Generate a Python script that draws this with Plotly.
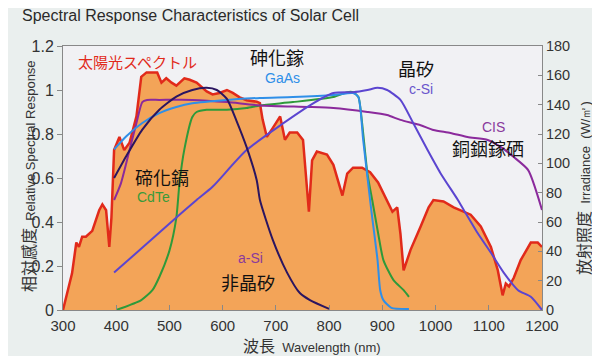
import plotly.graph_objects as go

# Solar spectrum (irradiance, W/m^2) vs wavelength (nm)
solar_wl = [300, 306, 317, 325, 330, 336, 343, 355, 368, 374, 381, 387, 391, 396, 406, 415, 425, 438, 447,
            457, 472, 477, 485, 494, 504, 513, 528, 538, 551, 557, 570, 581, 594, 608, 619, 632, 645, 664,
            670, 675, 683, 694, 708, 717, 726, 740, 751, 762, 768, 777, 796, 808, 825, 834, 845, 862, 877,
            892, 909, 919, 928, 934, 940, 953, 972, 987, 996, 1015, 1034, 1053, 1066, 1085, 1104, 1117,
            1126, 1132, 1138, 1147, 1160, 1179, 1192, 1200]
solar_irr = [0, 9, 25, 46, 43, 50, 50, 54, 68, 72, 68, 43, 63, 109, 118, 109, 114, 132, 159,
             162, 162, 162, 155, 158, 155, 153, 158, 157, 155, 153, 149, 147, 148, 150, 148, 145, 143, 142,
             141, 130, 118, 124, 132, 116, 121, 121, 116, 67, 102, 108, 106, 99, 78, 93, 97, 97, 94,
             87, 75, 67, 70, 52, 27, 41, 57, 70, 75, 74, 70, 67, 65, 57, 43, 27,
             10, 18, 16, 22, 34, 46, 46, 43]

gaas_wl = [396, 419, 449, 481, 513, 543, 608, 670, 732, 808, 845, 855, 864, 877, 881, 891, 896, 902, 917, 950]
gaas_r = [0.73, 0.79, 0.85, 0.895, 0.923, 0.94, 0.955, 0.964, 0.968, 0.977, 0.986, 0.968, 0.773, 0.5, 0.42,
          0.227, 0.09, 0.045, 0.01, 0.005]

cdte_wl = [400, 447, 468, 481, 500, 513, 519, 528, 543, 551, 570, 608, 645, 670, 732, 808, 834, 845, 855,
           862, 872, 881, 892, 902, 921, 940, 950]
cdte_r = [0.0, 0.045, 0.09, 0.15, 0.27, 0.42, 0.58, 0.73, 0.877, 0.9, 0.91, 0.91, 0.918, 0.93, 0.945, 0.968,
          0.99, 0.99, 0.968, 0.85, 0.62, 0.5, 0.35, 0.227, 0.136, 0.09, 0.06]

cis_wl = [396, 409, 425, 438, 449, 458, 481, 543, 608, 670, 760, 808, 872, 909, 934, 972, 996, 1028, 1060,
          1098, 1123, 1147, 1174, 1200]
cis_r = [0.5, 0.577, 0.727, 0.85, 0.945, 0.955, 0.955, 0.955, 0.945, 0.93, 0.923, 0.918, 0.9, 0.886, 0.864,
         0.84, 0.818, 0.805, 0.786, 0.773, 0.74, 0.695, 0.636, 0.455]

csi_wl = [396, 513, 551, 581, 645, 764, 808, 845, 872, 891, 909, 934, 958, 985, 1009, 1042, 1053, 1079, 1104,
          1128, 1155, 1179, 1200]
csi_r = [0.17, 0.42, 0.5, 0.56, 0.727, 0.93, 0.986, 0.99, 1.0, 1.01, 1.0, 0.955, 0.85, 0.727, 0.623, 0.5,
         0.455, 0.35, 0.26, 0.17, 0.09, 0.06, 0.0]

asi_wl = [396, 419, 449, 481, 513, 543, 570, 589, 608, 626, 645, 664, 670, 694, 721, 745, 764, 800]
asi_r = [0.6, 0.7, 0.82, 0.91, 0.97, 1.0, 1.01, 1.0, 0.96, 0.86, 0.74, 0.59, 0.5, 0.32, 0.17, 0.077, 0.045,
         0.005]

x_ticks = [300, 400, 500, 600, 700, 800, 900, 1000, 1100, 1200]

FONT = "Arial, Liberation Sans, sans-serif"
CJK = "Noto Sans CJK TC, Noto Sans CJK JP, sans-serif"

# page has an 8px body margin: figure drawn at (8, 8)
OFF = 8
W, H = 600 - OFF, 356 - OFF
L, R, T, B = 63 - OFF, 542 - OFF, 46 - OFF, 310 - OFF

def px(xs, ys):
    xp, yp = xs - OFF, ys - OFF
    return (xp - L) / (R - L), (B - yp) / (B - T)

fig = go.Figure()

fig.add_trace(go.Scatter(x=solar_wl, y=solar_irr, mode="lines", fill="tozeroy",
                         fillcolor="#f3a458", line=dict(color="#e12a1a", width=2.5),
                         yaxis="y", showlegend=False))

curves = [
    (cdte_wl, cdte_r, "#2e9a3a"),
    (cis_wl, cis_r, "#8b2a9c"),
    (gaas_wl, gaas_r, "#2f8fe8"),
    (csi_wl, csi_r, "#5b45d0"),
    (asi_wl, asi_r, "#2b1560"),
]
for wl, r, c in curves:
    fig.add_trace(go.Scatter(x=wl, y=r, mode="lines",
                             line=dict(color=c, width=2, shape="spline", smoothing=0.6),
                             yaxis="y2", showlegend=False))

labels = [
    (137, 62, "太陽光スペクトル", "#e12a1a", 15, CJK),
    (277, 57, "砷化鎵", "#111111", 18, CJK),
    (282, 78, "GaAs", "#2f8fe8", 14, FONT),
    (416, 68, "晶矽", "#111111", 18, CJK),
    (421, 89, "c-Si", "#6a55cc", 14, FONT),
    (493, 127, "CIS", "#8a3a9c", 14, FONT),
    (488, 148, "銅銦鎵硒", "#111111", 18, CJK),
    (162, 177, "碲化鎘", "#111111", 18, CJK),
    (153, 197, "CdTe", "#3a9a3a", 14, FONT),
    (250, 258, "a-Si", "#8a3a9c", 14, FONT),
    (248, 282, "非晶矽", "#111111", 18, CJK),
]
for xs, ys, t, c, s, f in labels:
    x, y = px(xs, ys)
    fig.add_annotation(x=x, y=y, xref="paper", yref="paper", text=t, showarrow=False,
                       font=dict(color=c, size=s, family=f), xanchor="center", yanchor="middle")

# axis titles
x, y = px(28, 176)
fig.add_annotation(x=x, y=y, xref="paper", yref="paper", showarrow=False, textangle=-90,
                   xanchor="center", yanchor="middle",
                   text="相対感度  <span style='font-family:Arial;font-size:13px'>Relative Spectral Response</span>",
                   font=dict(size=16, color="#333333", family=CJK))
x, y = px(583, 188)
fig.add_annotation(x=x, y=y, xref="paper", yref="paper", showarrow=False, textangle=-90,
                   xanchor="center", yanchor="middle",
                   text="放射照度  <span style='font-family:Arial;font-size:13px'>Irradiance  (W/㎡)</span>",
                   font=dict(size=16, color="#333333", family=CJK))
x, y = px(312, 345)
fig.add_annotation(x=x, y=y, xref="paper", yref="paper", showarrow=False,
                   xanchor="center", yanchor="middle",
                   text="波長  <span style='font-family:Arial;font-size:13px'>Wavelength (nm)</span>",
                   font=dict(size=16, color="#333333", family=CJK))

fig.update_layout(
    width=W, height=H,
    margin=dict(l=L, r=W - R, t=T, b=H - B),
    paper_bgcolor="#eaefee",
    plot_bgcolor="#f1f1f4",
    title=dict(text="Spectral Response Characteristics of Solar Cell", x=(22 - OFF) / W, xanchor="left",
               y=1 - (15 - OFF) / H, yanchor="middle", font=dict(family=FONT, size=16, color="#2a2a2a")),
    xaxis=dict(range=[300, 1200], tickvals=x_ticks, ticks="inside", ticklen=5, tickcolor="#888",
               showgrid=False, zeroline=False, showline=True, linecolor="#888", mirror=True,
               ticklabelstandoff=2,
               tickfont=dict(family=FONT, size=15, color="#333")),
    yaxis=dict(range=[0, 180], dtick=20, side="right", ticks="inside", ticklen=4, tickcolor="#888",
               showgrid=False, zeroline=False, showline=True, linecolor="#888",
               tickfont=dict(family=FONT, size=14.5, color="#333")),
    yaxis2=dict(range=[0, 1.2], dtick=0.2, side="left", overlaying="y", ticks="outside", ticklen=5,
                tickcolor="#888", showgrid=False, zeroline=False, showline=True, linecolor="#888",
                tickfont=dict(family=FONT, size=16, color="#333")),
)

fig.write_html("out.html")
